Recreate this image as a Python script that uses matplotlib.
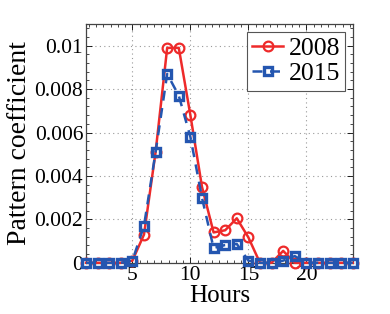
import matplotlib
matplotlib.use("Agg")
import matplotlib.pyplot as plt
import numpy as np
from matplotlib.ticker import AutoMinorLocator

hours = list(range(1, 25))
coef_2008 = [0, 0, 0, 0, 0.0001, 0.0013, 0.0051, 0.0099, 0.0099, 0.0068, 0.0035, 0.0014,
             0.0015, 0.00205, 0.00117, 0, 0, 0.00055, 0, 0, 0, 0, 0, 0]
coef_2015 = [0, 0, 0, 0, 0.0001, 0.0017, 0.0051, 0.0087, 0.0077, 0.0058, 0.0030, 0.00068,
             0.00082, 0.00087, 0.0001, 0, 0, 0.0001, 0.00031, 0, 0, 0, 0, 0]
yticks = [0, 0.002, 0.004, 0.006, 0.008, 0.01]
ytick_labels = ["0", "0.002", "0.004", "0.006", "0.008", "0.01"]

plt.rcParams['font.family'] = ['Liberation Serif', 'DejaVu Serif']

fig = plt.figure(figsize=(3.9, 3.14), dpi=100)
ax = fig.add_axes([0.2205, 0.163, 0.684, 0.7606])

red = '#ee2a2a'
blue = '#2456b0'
ax.plot(hours, coef_2008, '-', color=red, lw=1.8, marker='o', ms=7,
        mfc='none', mec=red, mew=1.6, label='2008', zorder=3, clip_on=False)
ax.plot(hours, coef_2015, '--', color=blue, lw=1.8, marker='s', ms=6,
        mfc='none', mec=blue, mew=2.4, label='2015', zorder=4, dashes=(4, 3),
        clip_on=False)

ax.set_xlim(1, 24)
ax.set_ylim(0, 0.011)
ax.set_xticks([5, 10, 15, 20])
ax.set_yticks(yticks)
ax.set_yticklabels(ytick_labels)
ax.xaxis.set_minor_locator(AutoMinorLocator(8))
ax.yaxis.set_minor_locator(AutoMinorLocator(5))
ax.tick_params(which='both', direction='in', top=True, right=True, labelsize=15.5, pad=2)
ax.tick_params(which='major', length=4, width=0.6)
ax.tick_params(which='minor', length=2, width=0.5)
for s in ax.spines.values():
    s.set_linewidth(0.9)
    s.set_color('#444444')

ax.grid(True, which='major', linestyle=(0, (1, 3)), color='#999999', lw=0.8)
ax.set_xlabel("Hours", fontsize=18, labelpad=0)
ax.set_ylabel("Pattern coefficient", fontsize=20, labelpad=2)

leg = ax.legend(loc='upper right', fontsize=18.5, fancybox=False, edgecolor='#555555',
                handlelength=1.2, handletextpad=0.2, borderpad=0.2, labelspacing=0.1,
                borderaxespad=0.3, framealpha=1)
leg.get_frame().set_linewidth(0.8)

fig.savefig("out.png", dpi=100)
